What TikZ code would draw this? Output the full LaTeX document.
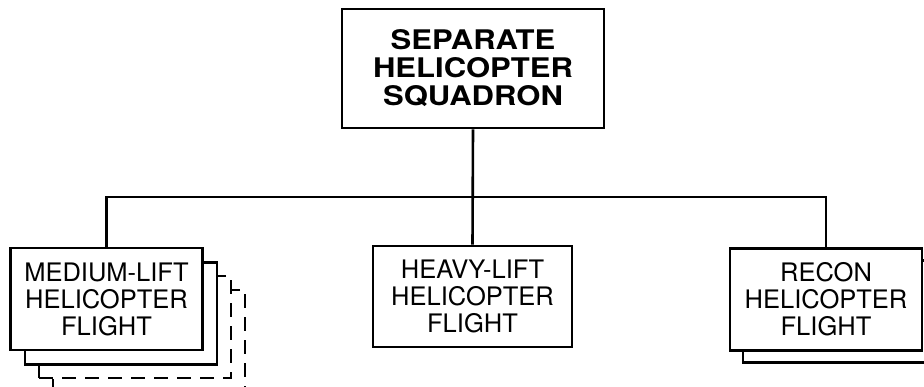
\documentclass[tikz,border=0pt]{standalone}
\usepackage{fontspec}
\setmainfont{TeX Gyre Heros}
\newfontfamily\headfont[FakeStretch=1.15]{TeX Gyre Heros}
\begin{document}
\begin{tikzpicture}[
  x=1pt, y=-1pt,
  box/.style={
    draw,
    line width=2.6pt,
    fill=white,
    align=center,
    inner sep=0pt,
    font=\fontsize{25.5}{27}\selectfont
  },
  headbox/.style={
    box,
    minimum width=262pt,
    minimum height=119pt,
    font=\headfont\bfseries\fontsize{27}{28}\selectfont
  },
  flight/.style={
    box,
    minimum width=192pt,
    minimum height=102pt
  },
  ghost/.style={
    flight,
    line width=1.2pt,
    dash pattern=on 14pt off 9pt
  },
  link/.style={line width=2.6pt}
]
\clip (0,0) rectangle (924,387);

\node[headbox] (squadron) at (473,68.5) {SEPARATE\\HELICOPTER\\SQUADRON};

% stacked flights behind the first one
\node[ghost] (medium4) at (149,341) {};
\node[ghost] (medium3) at (135,327) {};
\node[flight] (medium2) at (121,313.5) {};
\node[flight] (medium) at (106.5,299) {MEDIUM-LIFT\\HELICOPTER\\FLIGHT};

\node[flight, minimum width=199pt, minimum height=101pt] (heavy) at (472.5,296.5) {HEAVY-LIFT\\HELICOPTER\\FLIGHT};

\node[flight] (recon2) at (839,311.5) {};
\node[flight] (recon) at (826,299.5) {RECON\\HELICOPTER\\FLIGHT};

\coordinate (bus) at (473,197);
\draw[link] (squadron.south) -- (heavy.north);
\draw[link] (medium.north) |- (bus) -| (recon.north);
\end{tikzpicture}
\end{document}
